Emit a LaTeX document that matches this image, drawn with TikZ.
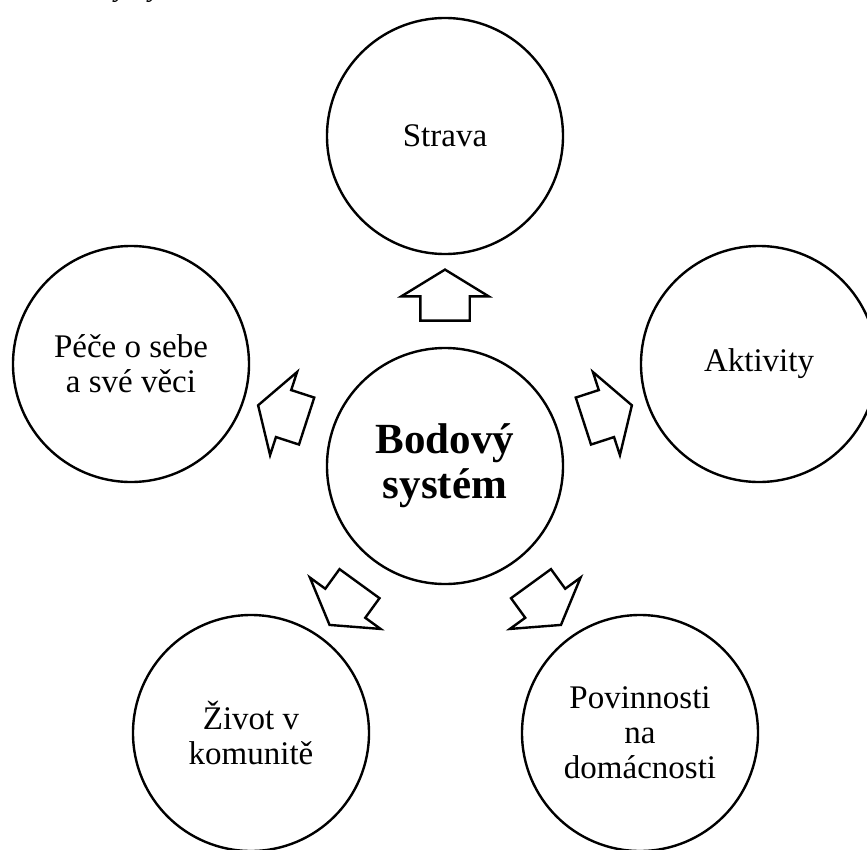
\documentclass[tikz,border=0pt]{standalone}
\usepackage{fontspec}
\setmainfont{Liberation Serif}
\usetikzlibrary{shapes.arrows,calc}
\tikzset{
  x=1pt,y=-1pt,
  bubble/.style={circle,draw,line width=2.4pt,minimum size=236pt,inner sep=0pt,
    align=center,font=\fontsize{33}{35}\selectfont},
  hub/.style={bubble,font=\fontsize{43}{45}\bfseries\selectfont},
  blockarrow/.style={single arrow,draw,line width=2.4pt,minimum height=51pt,
    inner xsep=0pt,inner ysep=23.5pt,single arrow head extend=19pt,
    single arrow tip angle=117,anchor=center}
}
\begin{document}
\begin{tikzpicture}
\useasboundingbox (0,0) rectangle (867,849);
\begin{scope}
\clip (0,0) rectangle (867,849);
\node[anchor=base,font=\fontsize{28}{30}\itshape\selectfont] (frag1) at (121,-4) {y};
\node[anchor=base,font=\fontsize{28}{30}\itshape\selectfont] (frag2) at (155,-4) {y};
\node[hub] (c) at (445,466) {Bodový\\systém};
\node[bubble] (t) at (445,136) {Strava};
\node[bubble] (l) at (131,364) {Péče o sebe\\a své věci};
\node[bubble] (r) at (759,364) {Aktivity};
\node[bubble] (bl) at (251,733) {Život v\\komunitě};
\node[bubble] (br) at (640,733) {Povinnosti\\na\\domácnosti};
\node[blockarrow,rotate=90] (at) at ($(c)!0.495!(t)$) {};
\node[blockarrow,rotate=162] (al) at ($(c)!0.495!(l)$) {};
\node[blockarrow,rotate=18] (ar) at ($(c)!0.495!(r)$) {};
\node[blockarrow,rotate=234] (abl) at ($(c)!0.495!(bl)$) {};
\node[blockarrow,rotate=306] (abr) at ($(c)!0.495!(br)$) {};
\end{scope}
\end{tikzpicture}
\end{document}
